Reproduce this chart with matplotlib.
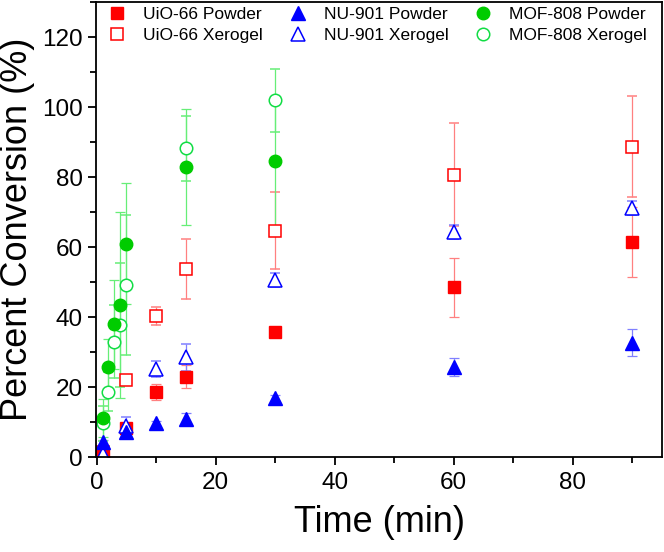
import matplotlib
matplotlib.use("Agg")
import matplotlib.pyplot as plt
from matplotlib.lines import Line2D
from matplotlib.ticker import MultipleLocator

plt.rcParams['font.family'] = ['Liberation Sans', 'DejaVu Sans']

t_all = [1, 5, 10, 15, 30, 60, 90]
t_mof = [1, 2, 3, 4, 5, 15, 30]

uio_powder = [0.8, 8.3, 18.5, 23.0, 35.6, 48.5, 61.5]
uio_powder_err = [0.5, 1.5, 2.3, 3.3, 1.0, 8.5, 10.0]
uio_xerogel = [1.5, 22.0, 40.3, 53.7, 64.7, 80.6, 88.7]
uio_xerogel_err = [0.8, 1.0, 2.6, 8.5, 11.0, 14.7, 14.5]

nu_powder = [4.2, 7.1, 9.6, 11.0, 16.8, 25.8, 32.7]
nu_powder_err = [0.8, 1.0, 0.6, 1.5, 0.8, 2.6, 3.9]
nu_xerogel = [1.0, 8.8, 25.1, 28.5, 50.6, 64.3, 71.1]
nu_xerogel_err = [0.8, 2.6, 2.2, 3.8, 2.0, 2.0, 2.0]

mof_powder = [11.2, 25.8, 37.9, 43.4, 61.0, 82.9, 84.6]
mof_powder_err = [5.5, 8.0, 12.7, 26.5, 17.2, 16.5, 18.6]
mof_xerogel = [9.6, 18.7, 32.9, 37.7, 49.1, 88.2, 102.0]
mof_xerogel_err = [5.0, 5.5, 10.4, 17.8, 20.0, 9.2, 9.0]

labels = ['UiO-66 Powder', 'UiO-66 Xerogel', 'NU-901 Powder',
          'NU-901 Xerogel', 'MOF-808 Powder', 'MOF-808 Xerogel']

fig = plt.figure(figsize=(6.64, 5.52), dpi=100)
ax = fig.add_axes([96/664, 95/552, 566/664, 455/552])

red, red_e = '#FF0000', '#FF8080'
blue, blue_e = '#0000FF', '#8080FF'
green, green_e = '#00CC00', '#66EE77'
green_o = '#11DD44'

common = dict(ls='none', capsize=3.5, elinewidth=0.9, capthick=0.9)

ax.errorbar(t_all, uio_xerogel, yerr=uio_xerogel_err, marker='s', ms=8,
            mfc='white', mec=red, mew=1.1, ecolor=red_e, **common)
ax.errorbar(t_all, uio_powder, yerr=uio_powder_err, marker='s', ms=8,
            mfc=red, mec=red, ecolor=red_e, **common)
ax.errorbar(t_all, nu_xerogel, yerr=nu_xerogel_err, marker='^', ms=9.5,
            mfc='white', mec=blue, mew=1.1, ecolor=blue_e, **common)
ax.errorbar(t_all, nu_powder, yerr=nu_powder_err, marker='^', ms=9.5,
            mfc=blue, mec=blue, ecolor=blue_e, **common)
ax.errorbar(t_mof, mof_xerogel, yerr=mof_xerogel_err, marker='o', ms=9,
            mfc='white', mec=green_o, mew=1.1, ecolor=green_e, **common)
ax.errorbar(t_mof, mof_powder, yerr=mof_powder_err, marker='o', ms=9,
            mfc=green, mec=green, ecolor=green_e, **common)

ax.set_xlim(-0.1, 95)
ax.set_ylim(0, 130)
ax.xaxis.set_major_locator(MultipleLocator(20))
ax.xaxis.set_minor_locator(MultipleLocator(10))
ax.yaxis.set_major_locator(MultipleLocator(20))
ax.yaxis.set_minor_locator(MultipleLocator(10))
ax.tick_params(which='both', direction='out', top=False, right=False,
               width=1.3, labelsize=17.5)
ax.tick_params(which='major', length=6)
ax.tick_params(which='minor', length=4)
ax.tick_params(axis='x', pad=4.5)
for s in ax.spines.values():
    s.set_linewidth(1.3)

ax.set_xlabel('Time (min)', fontsize=26, labelpad=8)
ax.set_ylabel('Percent Conversion (%)', fontsize=26, labelpad=5)

handles = [
    Line2D([], [], ls='none', marker='s', ms=8, mfc=red, mec=red),
    Line2D([], [], ls='none', marker='s', ms=8, mfc='white', mec=red, mew=1.1),
    Line2D([], [], ls='none', marker='^', ms=9.5, mfc=blue, mec=blue),
    Line2D([], [], ls='none', marker='^', ms=9.5, mfc='white', mec=blue, mew=1.1),
    Line2D([], [], ls='none', marker='o', ms=9, mfc=green, mec=green),
    Line2D([], [], ls='none', marker='o', ms=9, mfc='white', mec=green_o, mew=1.1),
]
ax.legend(handles, labels, ncol=3, loc='upper left', frameon=False,
          bbox_to_anchor=(0.022, 0.99), borderpad=0, borderaxespad=0,
          fontsize=12.5, handlelength=1.0, handletextpad=1.0,
          columnspacing=1.5, labelspacing=0.36)

fig.savefig('out.png', dpi=100)
